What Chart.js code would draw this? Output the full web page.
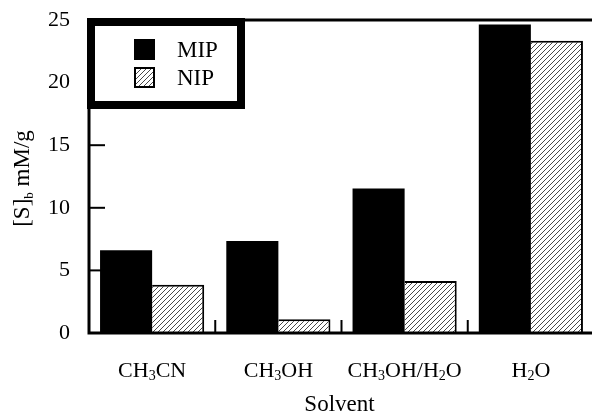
<!DOCTYPE html>
<html>
<head>
<meta charset="utf-8">
<script src="https://cdn.jsdelivr.net/npm/chart.js@4"></script>
<style>
  body { margin:0; overflow:hidden; background:#fff; }
</style>
</head>
<body>
<canvas id="bar_Chart" width="600" height="413"></canvas>
<script>
// "_" marks the next character as a subscript
var solvents = ['CH_3CN', 'CH_3OH', 'CH_3OH/H_2O', 'H_2O'];
var mipValues = [6.6, 7.35, 11.55, 24.65];
var nipValues = [3.85, 1.1, 4.15, 23.35];
var seriesNames = ['MIP', 'NIP'];
var yTicks = [0, 5, 10, 15, 20, 25];
var xTitle = 'Solvent';
var yTitle = '[S]_b mM/g';

var serif = "'Liberation Serif', 'DejaVu Serif', serif";

function makeHatch() {
    var c = document.createElement('canvas');
    c.width = 5; c.height = 5;
    var g = c.getContext('2d');
    g.fillStyle = '#fff';
    g.fillRect(0, 0, 5, 5);
    g.strokeStyle = '#333';
    g.lineWidth = 0.9;
    g.beginPath();
    g.moveTo(-1, 6); g.lineTo(6, -1);
    g.stroke();
    return g.createPattern(c, 'repeat');
}
var hatch = makeHatch();

// split "CH_3CN" into [text, isSub] parts
function parts(s) {
    var out = [];
    for (var i = 0; i < s.length; i++) {
        if (s[i] == '_') { out.push([s[i+1], true]); i++; }
        else if (out.length && !out[out.length-1][1]) out[out.length-1][0] += s[i];
        else out.push([s[i], false]);
    }
    return out;
}

function drawRich(ctx, s, x, y, size, subSize, subDrop) {
    var p = parts(s);
    var w = 0;
    p.forEach(function(q){
        ctx.font = (q[1] ? subSize : size) + 'px ' + serif;
        w += ctx.measureText(q[0]).width;
    });
    var cx = x - w / 2;
    p.forEach(function(q){
        ctx.font = (q[1] ? subSize : size) + 'px ' + serif;
        ctx.fillText(q[0], cx, q[1] ? y + subDrop : y);
        cx += ctx.measureText(q[0]).width;
    });
}

var framePlugin = {
    id: 'frame',
    afterDatasetsDraw: function(chart) {
        var ctx = chart.ctx, a = chart.chartArea;
        var xs = chart.scales.x, ys = chart.scales.y;
        ctx.save();
        ctx.strokeStyle = '#000';
        ctx.lineWidth = 3;
        ctx.strokeRect(a.left, a.top, a.right - a.left, a.bottom - a.top);
        // y ticks, drawn inward
        ctx.lineWidth = 2;
        yTicks.forEach(function(v){
            if (v == yTicks[0] || v == yTicks[yTicks.length-1]) return;
            var y = ys.getPixelForValue(v);
            ctx.beginPath(); ctx.moveTo(a.left, y); ctx.lineTo(a.left + 16, y); ctx.stroke();
        });
        // category boundary ticks on x axis
        for (var i = 1; i < solvents.length; i++) {
            var x = (xs.getPixelForValue(i-1) + xs.getPixelForValue(i)) / 2;
            ctx.beginPath(); ctx.moveTo(x, a.bottom); ctx.lineTo(x, a.bottom - 13); ctx.stroke();
        }
        ctx.restore();
    },
    afterDraw: function(chart) {
        var ctx = chart.ctx, a = chart.chartArea;
        var xs = chart.scales.x;
        ctx.save();
        ctx.fillStyle = '#000';
        ctx.textBaseline = 'alphabetic';
        // category labels
        solvents.forEach(function(s, i){
            drawRich(ctx, s, xs.getPixelForValue(i), 377, 22, 14, 3);
        });
        // x title
        ctx.font = '23px ' + serif;
        ctx.textAlign = 'left';
        var tw = ctx.measureText(xTitle).width;
        ctx.fillText(xTitle, (a.left + a.right) / 2 - tw / 2 - 2, 411);
        // y title, rotated
        ctx.translate(29, (a.top + a.bottom) / 2 + 2);
        ctx.rotate(-Math.PI / 2);
        drawRich(ctx, yTitle, 0, 0, 23, 13, 4);
        ctx.restore();

        // legend box
        ctx.save();
        ctx.fillStyle = '#fff';
        ctx.fillRect(91, 22, 150, 83);
        ctx.strokeStyle = '#000';
        ctx.lineWidth = 8;
        ctx.strokeRect(91, 22, 150, 83);
        chart.data.datasets.forEach(function(d, i){
            var y = 39 + i * 28;
            ctx.fillStyle = d.backgroundColor;
            ctx.fillRect(134, y, 21, 21);
            ctx.lineWidth = 2;
            ctx.strokeRect(135, y + 1, 19, 19);
            ctx.fillStyle = '#000';
            ctx.font = '23px ' + serif;
            ctx.textBaseline = 'alphabetic';
            ctx.fillText(d.label, 177, y + 18);
        });
        ctx.restore();
    }
};

var barChart = new Chart(document.getElementById('bar_Chart'), {
    type: 'bar',
    plugins: [framePlugin],
    data: {
        labels: solvents,
        datasets: [
            { label: seriesNames[0], data: mipValues, backgroundColor: '#000',
              borderColor: '#000', borderWidth: 0 },
            { label: seriesNames[1], data: nipValues, backgroundColor: hatch,
              borderColor: '#000', borderWidth: { top: 2, right: 2, left: 0, bottom: 0 } }
        ]
    },
    options: {
        responsive: false,
        animation: false,
        events: [],
        layout: { padding: { left: 0, top: 20, right: 6, bottom: 0 } },
        datasets: { bar: { categoryPercentage: 0.825, barPercentage: 1 } },
        plugins: { legend: { display: false }, tooltip: { enabled: false } },
        scales: {
            x: {
                grid: { display: false, drawTicks: false },
                border: { display: false },
                ticks: { display: false },
                afterFit: function(s){ s.height = 80; s.paddingLeft = 0; s.paddingRight = 0; }
            },
            y: {
                min: yTicks[0], max: yTicks[yTicks.length-1],
                afterBuildTicks: function(s){ s.ticks = yTicks.map(function(v){ return { value: v }; }); },
                ticks: { font: { family: serif, size: 22 }, color: '#000', padding: 19 },
                grid: { display: false, drawTicks: false },
                border: { display: false },
                afterFit: function(s){ s.width = 89; s.paddingTop = 0; s.paddingBottom = 0; }
            }
        }
    }
});
</script>
</body>
</html>
